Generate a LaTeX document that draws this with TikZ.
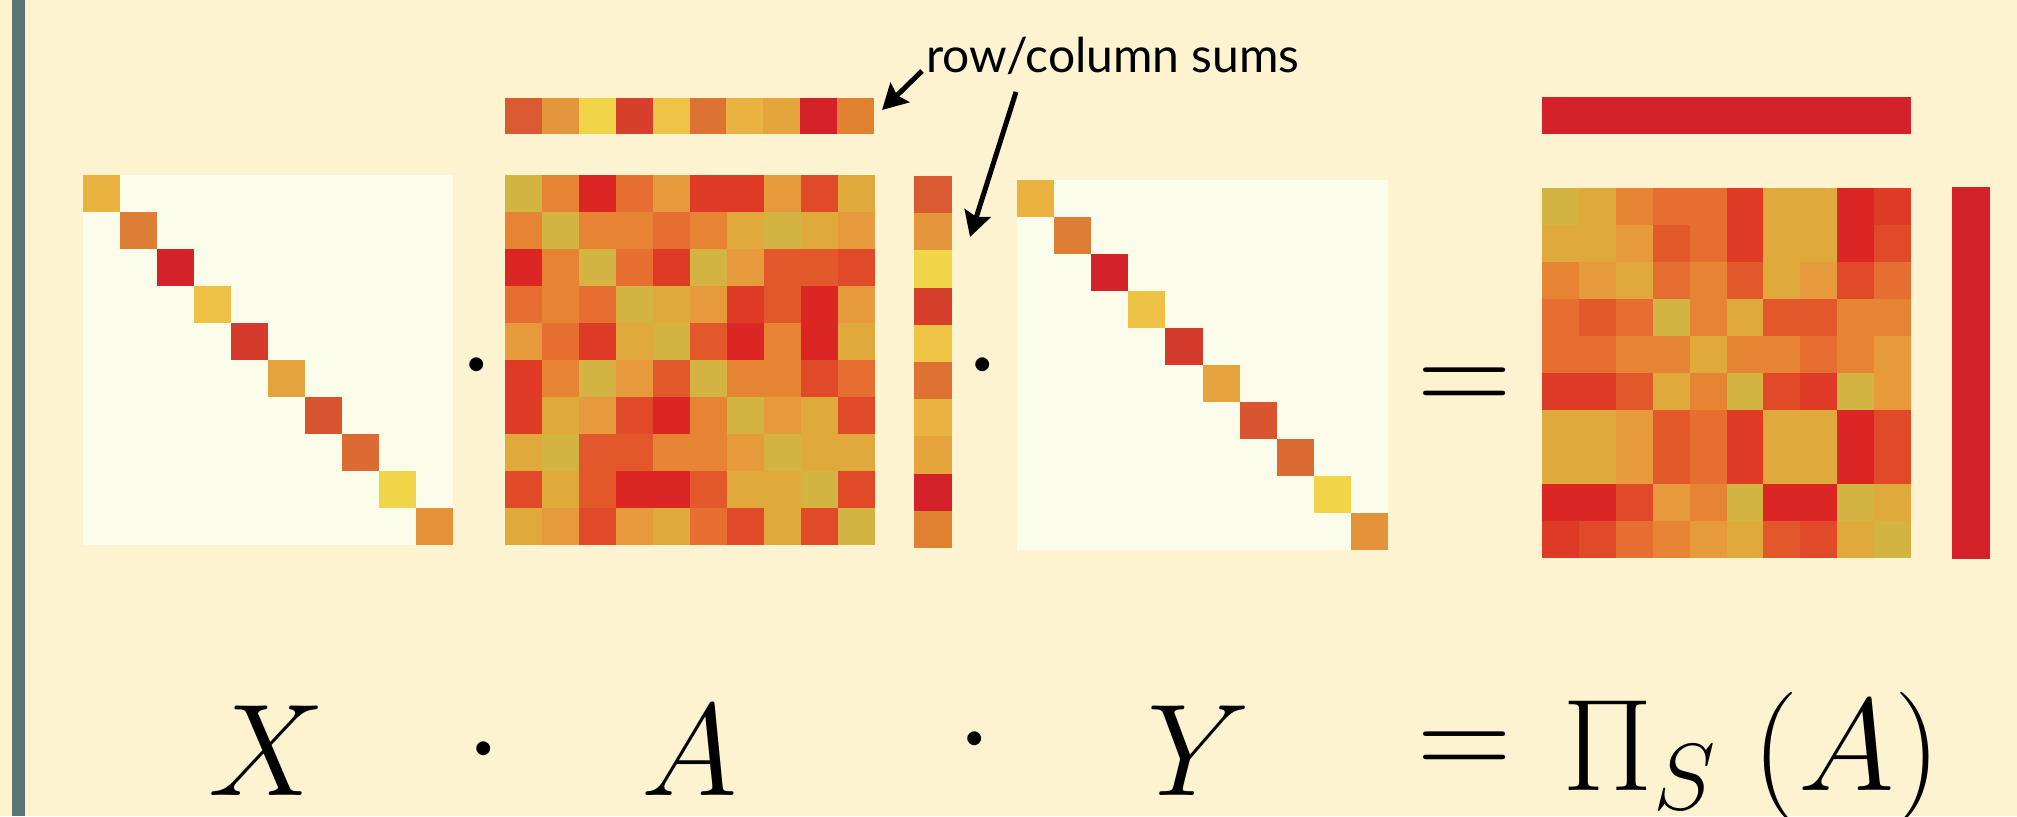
\documentclass[tikz,border=0pt]{standalone}
\usepackage{fix-cm}
\usepackage{fontspec}
\usetikzlibrary{arrows.meta}
\newfontfamily\sumsfont{Lato}

\begin{document}
\begin{tikzpicture}[x=1pt, y=-1pt,
    bigmath/.style={inner sep=0pt, anchor=base, font=\fontsize{131}{131}\selectfont},
    sumarrow/.style={line width=5pt, -{Stealth[length=25pt, width=27pt, inset=4pt]}}]
    \definecolor{page}{HTML}{FDF3D1}
    \definecolor{sidebar}{HTML}{5A7475}
    \definecolor{offdiag}{HTML}{FCFCEB}
    \definecolor{total}{HTML}{D3222A}
    % entry colours, yellow to red
    \definecolor{p1}{HTML}{D3B342}
    \definecolor{p2}{HTML}{DFA93C}
    \definecolor{p3}{HTML}{E69A3B}
    \definecolor{p4}{HTML}{E68434}
    \definecolor{p5}{HTML}{E56E30}
    \definecolor{p6}{HTML}{E2582B}
    \definecolor{p7}{HTML}{E04A28}
    \definecolor{p8}{HTML}{DF3A26}
    \definecolor{p9}{HTML}{DC2623}
    % diagonal entries of X and Y
    \definecolor{d1}{HTML}{EAB340}
    \definecolor{d2}{HTML}{DE7D35}
    \definecolor{d3}{HTML}{D32229}
    \definecolor{d4}{HTML}{EDC244}
    \definecolor{d5}{HTML}{D33A2C}
    \definecolor{d6}{HTML}{E5A33D}
    \definecolor{d7}{HTML}{D9552F}
    \definecolor{d8}{HTML}{DB6A33}
    \definecolor{d9}{HTML}{F1D447}
    \definecolor{d10}{HTML}{E4933B}
    % row/column sums of A
    \definecolor{s1}{HTML}{D95A30}
    \definecolor{s2}{HTML}{E3963A}
    \definecolor{s3}{HTML}{F2D449}
    \definecolor{s4}{HTML}{D73F2D}
    \definecolor{s5}{HTML}{EFC345}
    \definecolor{s6}{HTML}{DD7233}
    \definecolor{s7}{HTML}{EAB241}
    \definecolor{s8}{HTML}{E6A43D}
    \definecolor{s9}{HTML}{D42129}
    \definecolor{s10}{HTML}{E0822F}

    \useasboundingbox (0,0) rectangle (2017,816);
    \fill[page] (0,0) rectangle (2017,816);
    \fill[sidebar] (12,0) rectangle (25,816);

    % X (diagonal)
    \begin{scope}[shift={(83,175)}]
        \fill[offdiag] (0,0) rectangle (370,370);
        \foreach \k [count=\i from 0] in {1,...,10}
            \fill[fill=d\k] (\i*37,\i*37) rectangle ++(37,37);
    \end{scope}

    % A
    \begin{scope}[shift={(505,175)}]
        \foreach \row [count=\i from 0] in {{1,4,9,5,3,8,8,3,7,2},
                                            {4,1,4,4,5,4,2,1,2,3},
                                            {9,4,1,5,8,1,3,6,6,7},
                                            {5,4,5,1,2,3,8,6,9,3},
                                            {3,5,8,2,1,6,9,4,9,2},
                                            {8,4,1,3,6,1,4,4,7,5},
                                            {8,2,3,7,9,4,1,3,2,7},
                                            {2,1,6,6,4,4,3,1,2,2},
                                            {7,2,6,9,9,6,2,2,1,7},
                                            {2,3,7,3,2,5,7,2,7,1}}
            \foreach \c [count=\j from 0] in \row
                \fill[fill=p\c] (\j*37,\i*37) rectangle ++(37,37);
    \end{scope}
    % column sums of A
    \begin{scope}[shift={(505,98)}]
        \foreach \k [count=\i from 0] in {1,...,10}
            \fill[fill=s\k] (\i*36.9,0) rectangle ++(36.9,36);
    \end{scope}
    % row sums of A
    \begin{scope}[shift={(914,176)}]
        \foreach \k [count=\i from 0] in {1,...,10}
            \fill[fill=s\k] (0,\i*37.2) rectangle ++(38,37.2);
    \end{scope}

    % Y (diagonal)
    \begin{scope}[shift={(1017,180)}]
        \fill[offdiag] (0,0) rectangle (371,370);
        \foreach \k [count=\i from 0] in {1,...,10}
            \fill[fill=d\k] (\i*37.1,\i*37) rectangle ++(37.1,37);
    \end{scope}

    % Pi_S(A) and its sums
    \begin{scope}[shift={(1542,188)}]
        \foreach \row [count=\i from 0] in {{1,2,4,5,5,8,2,2,9,8},
                                            {2,2,3,6,5,8,2,2,9,7},
                                            {4,3,2,5,4,6,2,3,7,5},
                                            {5,6,5,1,4,2,6,6,4,4},
                                            {5,5,4,4,2,4,4,5,4,3},
                                            {8,8,6,2,4,1,7,8,1,3},
                                            {2,2,3,6,5,8,2,2,9,7},
                                            {2,2,3,6,5,8,2,2,9,7},
                                            {9,9,7,3,4,1,9,9,1,2},
                                            {8,7,5,4,3,2,6,7,2,1}}
            \foreach \c [count=\j from 0] in \row
                \fill[fill=p\c] (\j*36.9,\i*37) rectangle ++(36.9,37);
    \end{scope}
    \fill[total] (1542,97) rectangle (1911,134);
    \fill[total] (1952,187) rectangle (1990,559);

    % operators between the pictures
    \node[bigmath] (dotxa) at (476.5,397.75) {$\cdot$};
    \node[bigmath] (dotay) at (983,397.75) {$\cdot$};
    \node[bigmath] (eqtop) at (1465,414.25) {$=$};

    % formula
    \node[bigmath] (xlab) at (267,795) {$X$};
    \node[bigmath] (dot1) at (484,781.75) {$\cdot$};
    \node[bigmath] (alab) at (690,795) {$A$};
    \node[bigmath] (dot2) at (975,771.75) {$\cdot$};
    \node[bigmath] (ylab) at (1199,795) {$Y$};
    \node[bigmath] (eqbot) at (1465,778.75) {$=$};
    \node[bigmath, anchor=base west] (proj) at (1562,790)
        {$\Pi_{\mbox{\fontsize{94}{94}\selectfont$S$}}\mkern5mu(A)$};

    % label with arrows to the sums
    \node[inner sep=0pt, anchor=base west, font=\sumsfont\fontsize{48}{48}\selectfont] (sums) at (926,72) {row/column sums};
    \coordinate (coltail) at (922,71);
    \coordinate (coltip) at (882,110);
    \coordinate (rowtail) at (1016,92);
    \coordinate (rowtip) at (970,237);
    \draw[sumarrow] (coltail) -- (coltip);
    \draw[sumarrow] (rowtail) -- (rowtip);
\end{tikzpicture}
\end{document}
